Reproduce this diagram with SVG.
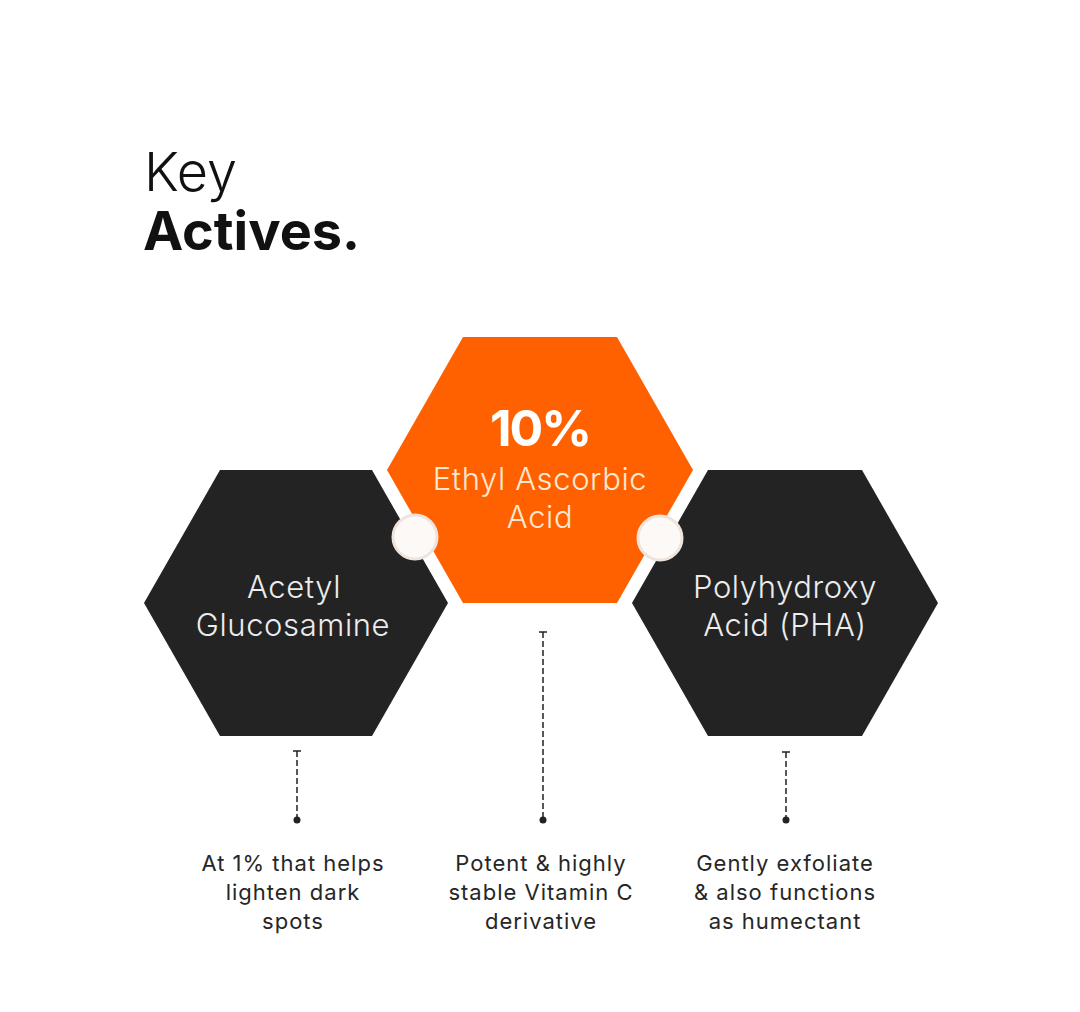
<svg xmlns="http://www.w3.org/2000/svg" width="1080" height="1012" viewBox="0 0 1080 1012">
<style>
.title{font-family:Inter,"Liberation Sans",sans-serif;font-size:54px;fill:#111}
.hex-dark{fill:#232323}
.hex-orange{fill:#ff6100}
.htxt{font-family:Inter,"Liberation Sans",sans-serif;font-size:31px;font-weight:300;letter-spacing:0.6px;text-anchor:middle;fill:#ececec}
.otxt{font-family:Inter,"Liberation Sans",sans-serif;font-size:31px;font-weight:300;letter-spacing:0.6px;text-anchor:middle;fill:#fde8d2}
.desc{font-family:Inter,"Liberation Sans",sans-serif;font-size:22px;letter-spacing:1px;text-anchor:middle;fill:#262626}
.conn{stroke:#222;stroke-width:1.5;stroke-dasharray:6 3;fill:none}
.cap{stroke:#222;stroke-width:1.5}
.dot{fill:#222}
.joint{fill:#fdf9f6;stroke:#efe4dc;stroke-width:3}
</style>
<rect width="1080" height="1012" fill="#fff"/>
<g id="title">
<text class="title" x="144" y="191" font-weight="300">Key</text>
<text class="title" x="143" y="250" font-weight="700">Actives.</text>
</g>
<g id="node-acetyl">
<polygon class="hex-dark" points="144,603 220,470 372,470 448,603 372,736 220,736"/>
<text class="htxt" x="294" y="598">Acetyl</text>
<text class="htxt" x="293" y="636">Glucosamine</text>
</g>
<g id="node-ethyl">
<polygon class="hex-orange" points="387,470 463,337 617,337 693,470 617,603 463,603"/>
<text x="540" y="446" font-family="Inter,'Liberation Sans',sans-serif" font-size="50" font-weight="700" text-anchor="middle" fill="#fff" letter-spacing="-2">10%</text>
<text class="otxt" x="540" y="490">Ethyl Ascorbic</text>
<text class="otxt" x="540" y="528">Acid</text>
</g>
<g id="node-pha">
<polygon class="hex-dark" points="632,603 708,470 862,470 938,603 862,736 708,736"/>
<text class="htxt" x="785" y="598">Polyhydroxy</text>
<text class="htxt" x="785" y="636">Acid (PHA)</text>
</g>
<g id="joints">
<circle class="joint" cx="415" cy="537" r="22"/>
<circle class="joint" cx="660" cy="538" r="22"/>
</g>
<g id="connectors">
<line class="conn" x1="297" y1="751" x2="297" y2="820"/>
<line class="cap" x1="293" y1="751" x2="301" y2="751"/>
<circle class="dot" cx="297" cy="820" r="3.5"/>
<line class="conn" x1="543" y1="632" x2="543" y2="820"/>
<line class="cap" x1="539" y1="632" x2="547" y2="632"/>
<circle class="dot" cx="543" cy="820" r="3.5"/>
<line class="conn" x1="786" y1="752" x2="786" y2="820"/>
<line class="cap" x1="782" y1="752" x2="790" y2="752"/>
<circle class="dot" cx="786" cy="820" r="3.5"/>
</g>
<g id="desc-acetyl">
<text class="desc" x="293" y="871">At 1% that helps</text>
<text class="desc" x="293" y="900">lighten dark</text>
<text class="desc" x="293" y="929">spots</text>
</g>
<g id="desc-ethyl">
<text class="desc" x="541" y="871">Potent &amp; highly</text>
<text class="desc" x="541" y="900">stable Vitamin C</text>
<text class="desc" x="541" y="929">derivative</text>
</g>
<g id="desc-pha">
<text class="desc" x="785" y="871">Gently exfoliate</text>
<text class="desc" x="785" y="900">&amp; also functions</text>
<text class="desc" x="785" y="929">as humectant</text>
</g>
</svg>
